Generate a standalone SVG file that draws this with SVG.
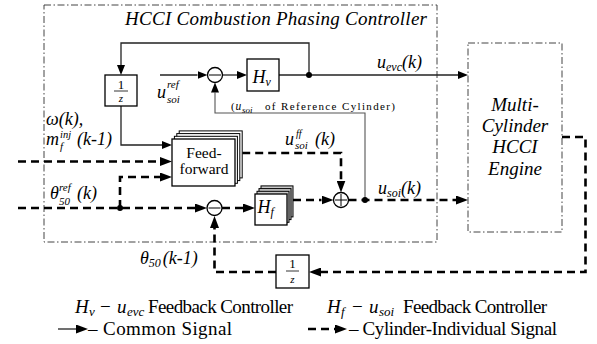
<svg xmlns="http://www.w3.org/2000/svg" width="597" height="344" viewBox="0 0 597 344" font-family="'Liberation Serif', 'DejaVu Serif', serif">
<defs>
<style>
.frame{fill:none;stroke:#444;stroke-width:1;stroke-dasharray:7 2.5 1.5 2.5}
.blk{fill:#fff;stroke:#000;stroke-width:1.3}
.bk{fill:#fff;stroke:#000;stroke-width:1}
.bkg{fill:#c8c8c8;stroke:#000;stroke-width:1}
.sig{fill:none;stroke:#222;stroke-width:1.3}
.ref{fill:none;stroke:#555;stroke-width:1.1}
.cyl{fill:none;stroke:#000;stroke-width:2.6;stroke-dasharray:8 5}
text{font-family:'Liberation Serif','DejaVu Serif',serif;fill:#000}
.i{font-style:italic}
.n{font-style:normal}
.dot{fill:#000}
</style>
<marker id="ah" viewBox="0 0 10 8" refX="0" refY="4" markerWidth="10" markerHeight="8" markerUnits="userSpaceOnUse" orient="auto"><path d="M0,0 L10,4 L0,8 z" fill="#000"/></marker>
<marker id="ahd" viewBox="0 0 12 9" refX="0" refY="4.5" markerWidth="12" markerHeight="9" markerUnits="userSpaceOnUse" orient="auto"><path d="M0,0 L12,4.5 L0,9 z" fill="#000"/></marker>
</defs>
<rect width="597" height="344" fill="#fff"/>

<g id="controller">
<rect class="frame" x="44" y="5" width="393" height="237"/>
<text class="i" x="125" y="25" font-size="19" textLength="302">HCCI Combustion Phasing Controller</text>
</g>

<g id="engine">
<rect class="frame" x="468" y="43" width="94" height="189"/>
<text class="i" font-size="19" text-anchor="middle"><tspan x="515" y="111">Multi-</tspan><tspan x="515" y="132">Cylinder</tspan><tspan x="515" y="153">HCCI</tspan><tspan x="515" y="175">Engine</tspan></text>
</g>

<g id="connectors">
<path class="sig" marker-end="url(#ah)" d="M309,75 V43 H121 V65"/>
<path class="sig" marker-end="url(#ah)" d="M121,106 V145 H162"/>
<path class="sig" marker-end="url(#ah)" d="M160,75 H197.5"/>
<path class="sig" marker-end="url(#ah)" d="M222.5,75 H237"/>
<path class="sig" marker-end="url(#ah)" d="M279,75 H458"/>
<path class="ref" marker-end="url(#ah)" d="M365,200 V113 H215 V92.5"/>
<path class="cyl" marker-end="url(#ahd)" d="M18,161.5 H160"/>
<path class="cyl" marker-end="url(#ahd)" d="M18,208 H195"/>
<path class="cyl" marker-end="url(#ahd)" d="M120,208 V177 H160"/>
<path class="cyl" marker-end="url(#ahd)" d="M222,208 H243"/>
<path class="cyl" marker-end="url(#ahd)" d="M242.2,153 H341 V180.5"/>
<path class="cyl" marker-end="url(#ahd)" d="M293,200 H321.5"/>
<path class="cyl" marker-end="url(#ahd)" d="M348.5,200 H456"/>
<path class="cyl" marker-end="url(#ahd)" d="M562,137 H585.5 V272 H321"/>
<path class="cyl" marker-end="url(#ahd)" d="M276,272 H214.5 V228"/>
<circle class="dot" cx="309" cy="75" r="3"/>
<circle class="dot" cx="365" cy="200" r="3"/>
<circle class="dot" cx="120" cy="208" r="3"/>
</g>

<g id="delay-top">
<rect class="blk" x="105" y="75" width="32" height="31"/>
<text x="121" y="88.5" font-size="13" text-anchor="middle">1</text>
<line x1="114" y1="91" x2="128" y2="91" stroke="#000" stroke-width="0.8"/>
<text class="i" x="121" y="101.5" font-size="11" text-anchor="middle">z</text>
</g>

<g id="sum-v">
<circle class="blk" cx="215" cy="75" r="7.5"/>
<line x1="209" y1="75" x2="221" y2="75" stroke="#000" stroke-width="1"/>
</g>

<g id="Hv">
<rect class="blk" x="247" y="59" width="32" height="32"/>
<text class="i" x="252.5" y="83" font-size="18">H<tspan font-size="12" dy="3">v</tspan></text>
</g>

<g id="feedforward">
<rect class="bk" x="179.2" y="130.9" width="63" height="47"/>
<rect class="bk" x="176.8" y="133.6" width="63" height="47"/>
<rect class="bk" x="174.4" y="136.3" width="63" height="47"/>
<rect class="blk" x="172" y="139" width="63" height="47"/>
<text font-size="15.5" text-anchor="middle"><tspan x="204" y="158">Feed-</tspan><tspan x="204" y="174">forward</tspan></text>
</g>

<g id="sum-f">
<circle class="blk" cx="214.5" cy="208" r="7.5"/>
<line x1="208.5" y1="208" x2="220.5" y2="208" stroke="#000" stroke-width="1"/>
</g>

<g id="Hf">
<rect class="bkg" x="261" y="185.9" width="32" height="31"/>
<rect class="bkg" x="259" y="188.6" width="32" height="31"/>
<rect class="bkg" x="257" y="191.3" width="32" height="31"/>
<rect class="blk" x="255" y="194" width="32" height="31"/>
<text class="i" x="257.5" y="213" font-size="18">H<tspan font-size="12" dy="3">f</tspan></text>
</g>

<g id="sum-plus">
<circle class="blk" cx="341" cy="200" r="7.5"/>
<path d="M335,200 H347 M341,194 V206" stroke="#000" stroke-width="1"/>
</g>

<g id="delay-bottom">
<rect class="blk" x="276" y="255" width="33" height="33"/>
<text x="292.5" y="268" font-size="13" text-anchor="middle">1</text>
<line x1="286" y1="271" x2="299" y2="271" stroke="#000" stroke-width="0.8"/>
<text class="i" x="292.5" y="283" font-size="11" text-anchor="middle">z</text>
</g>

<g id="labels">
<text class="i" x="157" y="98" font-size="18">u</text>
<text class="i" x="167" y="88" font-size="11">ref</text>
<text class="i" x="167" y="103" font-size="11">soi</text>

<text class="i" x="377" y="68" font-size="18">u<tspan font-size="12" dy="3">evc</tspan><tspan dy="-3">(k)</tspan></text>

<text x="231" y="110" font-size="11">(</text>
<text class="i" x="235.5" y="110" font-size="11.5">u</text>
<text class="i" x="242" y="112.5" font-size="9">soi</text>
<text x="265" y="110" font-size="11" textLength="130">of Reference Cylinder)</text>

<text class="i" x="285" y="145" font-size="18">u</text>
<text class="i" x="296" y="137" font-size="10">ff</text>
<text class="i" x="295" y="149" font-size="11">soi</text>
<text class="i" x="315" y="145" font-size="18">(k)</text>

<text class="i" x="378" y="194" font-size="18">u<tspan font-size="12" dy="3">soi</tspan><tspan dy="-3">(k)</tspan></text>

<text class="i" x="46" y="125" font-size="18">ω(k),</text>
<text class="i" x="46" y="145" font-size="18">m</text>
<text class="i" x="60" y="137.5" font-size="10.5">inj</text>
<text class="i" x="60" y="150" font-size="11">f</text>
<text class="i" x="77" y="145" font-size="18">(k-1)</text>

<text class="i" x="50" y="199" font-size="18">θ</text>
<text class="i" x="59" y="190.5" font-size="11">ref</text>
<text class="i" x="59" y="205" font-size="11">50</text>
<text class="i" x="77" y="199" font-size="18">(k)</text>

<text class="i" x="140" y="264" font-size="18">θ<tspan font-size="12" dy="3">50</tspan><tspan dy="-3" dx="2">(k-1)</tspan></text>
</g>

<g id="legend">
<text class="i" x="75" y="313" font-size="19">H<tspan x="89" font-size="13" dy="3">v</tspan><tspan class="n" x="100" dy="-3">−</tspan><tspan x="117">u</tspan><tspan x="127" font-size="13" dy="3">evc</tspan></text>
<text x="148" y="313" font-size="19" textLength="145">Feedback Controller</text>
<text class="i" x="327" y="313" font-size="19">H<tspan x="341" font-size="13" dy="3">f</tspan><tspan class="n" x="352" dy="-3">−</tspan><tspan x="369">u</tspan><tspan x="379" font-size="13" dy="3">soi</tspan></text>
<text x="403" y="313" font-size="19" textLength="144">Feedback Controller</text>

<path class="sig" marker-end="url(#ahd)" d="M58,329 H76"/>
<text x="88" y="335" font-size="19" textLength="144">– Common Signal</text>
<path class="cyl" marker-end="url(#ahd)" d="M308,329 H335" stroke-dasharray="6 4"/>
<text x="349" y="335" font-size="19" textLength="208">– Cylinder-Individual Signal</text>
</g>
</svg>
